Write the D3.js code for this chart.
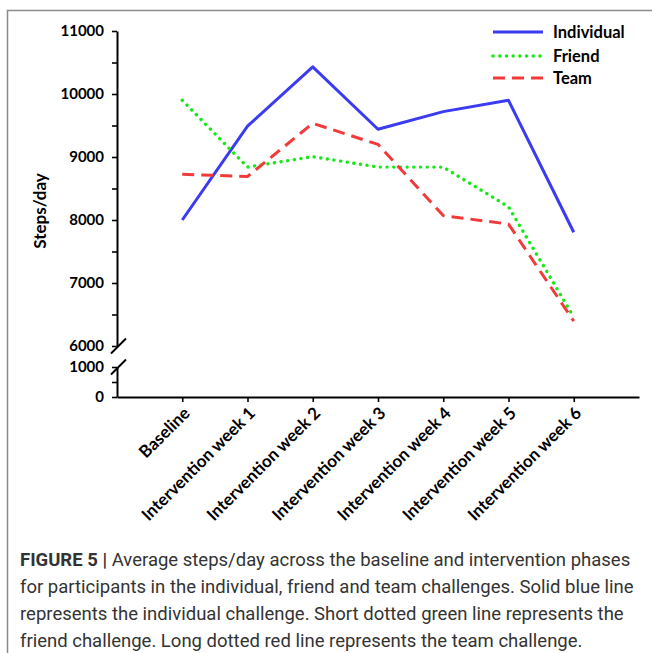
<!DOCTYPE html>
<html>
<head>
<meta charset="utf-8">
<script src="https://cdn.jsdelivr.net/npm/d3@7"></script>
<style>
  body { margin: 0; background: #fff; }
  svg { display: block; }
</style>
</head>
<body>
<div id="chart"></div>
<script>
// categories and series
const phases = ["Baseline", "Intervention week 1", "Intervention week 2", "Intervention week 3",
  "Intervention week 4", "Intervention week 5", "Intervention week 6"];
const individual = [8000, 9490, 10430, 9440, 9720, 9900, 7805];
const friend = [9900, 8840, 9005, 8840, 8840, 8210, 6460];
const team = [8725, 8690, 9535, 9200, 8070, 7935, 6395];
const upperTicks = [6000, 6500, 7000, 7500, 8000, 8500, 9000, 9500, 10000, 10500, 11000];
const lowerTicks = [0, 500, 1000];
const seriesNames = ["Individual", "Friend", "Team"];

const W = 652, H = 653;
const svg = d3.select("#chart").append("svg")
  .attr("width", W).attr("height", H);

// frame (top + left rule)
svg.append("path")
  .attr("d", `M7.5,${H} V10.5 H${W}`)
  .attr("fill", "none").attr("stroke", "#8a8a8a").attr("stroke-width", 1.5);

// scales: broken y axis -> two linear segments
const x = d3.scalePoint().domain(phases).range([117, 639]).padding(1);
const yTop = d3.scaleLinear().domain([6000, 11000]).range([346, 31]);
const yBot = d3.scaleLinear().domain([0, 1000]).range([397, 367]);

const tickFont = "Lato, 'Open Sans', sans-serif";

function styleAxis(g) {
  g.selectAll(".domain").attr("stroke", "#000").attr("stroke-width", 2);
  g.selectAll(".tick line").attr("stroke", "#000").attr("stroke-width", 1.6);
  g.selectAll(".tick text").attr("font-family", tickFont).attr("font-weight", 700)
    .attr("font-size", "15px").attr("fill", "#000");
}

svg.append("g").attr("transform", "translate(117,0)")
  .call(d3.axisLeft(yTop).tickValues(upperTicks).tickSize(5).tickSizeOuter(0).tickPadding(8)
    .tickFormat(d => d % 1000 === 0 ? d : ""))
  .call(styleAxis);

svg.append("g").attr("transform", "translate(117,0)")
  .call(d3.axisLeft(yBot).tickValues(lowerTicks).tickSize(5).tickSizeOuter(0).tickPadding(8)
    .tickFormat(d => d % 1000 === 0 ? d : ""))
  .call(styleAxis);

// break marks
[yTop(6000), yBot(1000)].forEach(yy => {
  svg.append("line")
    .attr("x1", 111).attr("y1", yy + 7.5).attr("x2", 126).attr("y2", yy - 7.5)
    .attr("stroke", "#000").attr("stroke-width", 2);
});

// x axis
const xg = svg.append("g").attr("transform", `translate(0,${yBot(0)})`)
  .call(d3.axisBottom(x).tickSize(5).tickSizeOuter(0))
  .call(styleAxis);
xg.selectAll(".tick text")
  .attr("text-anchor", "end")
  .attr("transform", "translate(4,13) rotate(-45)")
  .attr("dy", "0.35em").attr("y", 0).attr("x", 0)
  .attr("font-size", "17px");

// y title
svg.append("text")
  .attr("transform", "translate(40,211) rotate(-90)")
  .attr("text-anchor", "middle")
  .attr("dy", "0.35em")
  .attr("font-family", tickFont).attr("font-weight", 700).attr("font-size", "17px")
  .text("Steps/day");

// lines
const styles = {
  Individual: { color: "#3b3bf2", dash: null, width: 3 },
  Friend: { color: "#16ea16", dash: "0.1,6.6", width: 3.4 },
  Team: { color: "#f23a3a", dash: "12,7", width: 3 }
};
const seriesData = { Individual: individual, Friend: friend, Team: team };
const line = d3.line().x((d, i) => x(phases[i])).y(d => yTop(d));

seriesNames.forEach(name => {
  const s = styles[name];
  svg.append("path")
    .datum(seriesData[name])
    .attr("d", line)
    .attr("fill", "none")
    .attr("stroke", s.color)
    .attr("stroke-width", s.width)
    .attr("stroke-dasharray", s.dash)
    .attr("stroke-linecap", name === "Friend" ? "round" : "butt")
    .attr("stroke-linejoin", "round");
});

// legend
const legend = svg.append("g");
seriesNames.forEach((name, i) => {
  const s = styles[name];
  const yy = [32, 56, 78][i];
  legend.append("line")
    .attr("x1", 493).attr("x2", 543).attr("y1", yy).attr("y2", yy)
    .attr("stroke", s.color).attr("stroke-width", s.width)
    .attr("stroke-dasharray", s.dash)
    .attr("stroke-linecap", name === "Friend" ? "round" : "butt");
  legend.append("text")
    .attr("x", 553).attr("y", yy).attr("dy", "0.35em")
    .attr("font-family", tickFont).attr("font-weight", 700).attr("font-size", "16.5px")
    .text(name);
});

// caption
const captionLines = [
  ["FIGURE 5 | ", "Average steps/day across the baseline and intervention phases"],
  [null, "for participants in the individual, friend and team challenges. Solid blue line"],
  [null, "represents the individual challenge. Short dotted green line represents the"],
  [null, "friend challenge. Long dotted red line represents the team challenge."]
];
const cap = svg.append("text")
  .attr("font-family", "'Liberation Sans Narrow', Roboto, 'Liberation Sans', sans-serif")
  .attr("font-size", "18.5px").attr("fill", "#333");
captionLines.forEach((ln, i) => {
  const yy = 566 + i * 27;
  if (ln[0]) {
    cap.append("tspan").attr("x", 20).attr("y", yy).attr("font-weight", 700).text(ln[0]);
    cap.append("tspan").text(ln[1]);
  } else {
    cap.append("tspan").attr("x", 20).attr("y", yy).text(ln[1]);
  }
});
</script>
</body>
</html>
